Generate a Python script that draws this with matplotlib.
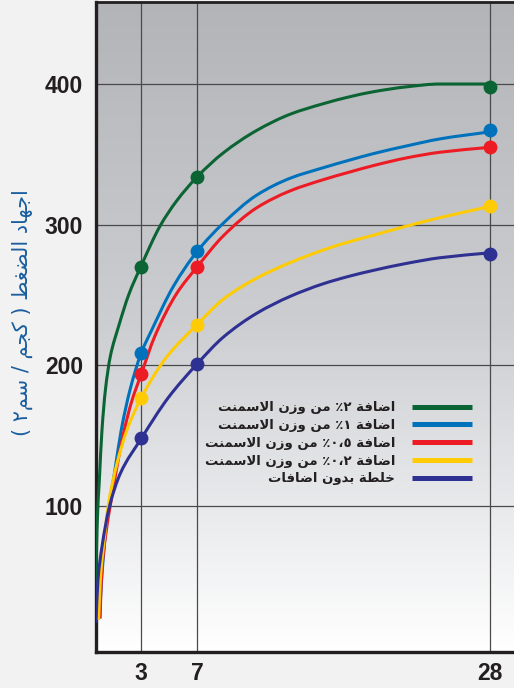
import numpy as np
import matplotlib
matplotlib.use('Agg')
from matplotlib import pyplot as plt
from matplotlib.lines import Line2D
from matplotlib.path import Path
from matplotlib.patches import PathPatch
from matplotlib.colors import LinearSegmentedColormap

# marker readings (age in days -> strength)
days = [3, 7, 28]
green_pts = [270, 334, 398]
blue_pts = [209, 281, 367]
red_pts = [194, 270, 355]
yellow_pts = [177, 229, 313]
navy_pts = [148, 201, 279]

# curves
green_x = [-0.28, -0.25, -0.18, -0.01, 0.18, 0.42, 0.77, 1.38, 2.09, 3, 4.34, 5.5, 7, 8.87, 11.27, 13.66, 16.04, 17.96, 19.63, 22.02, 24.41, 28]
green_y = [20, 45, 83, 118, 154, 182, 206, 228, 250, 271, 299, 316.5, 334, 351, 367, 378.5, 386, 391, 394.5, 398, 400, 400]
blue_x = [0.0, 0.15, 0.45, 0.7, 1.1, 1.56, 2.2, 3, 3.74, 5.29, 7, 8.87, 11.27, 13.66, 16.04, 17.96, 19.63, 22.02, 24.41, 28]
blue_y = [20, 47, 82, 100, 125, 154, 183, 209, 225, 256, 281, 301, 321, 333, 340.5, 346, 350.5, 356, 361, 366]
red_x = [0.05, 0.13, 0.45, 0.77, 1.2, 1.73, 2.3, 3, 3.98, 5.53, 7, 8.87, 11.27, 13.66, 16.04, 17.96, 19.63, 22.02, 24.41, 28]
red_y = [20, 47, 80, 100, 125, 152, 174, 194, 221, 251, 270, 292, 312, 324, 332, 337.5, 342, 347.5, 351.5, 355]
yellow_x = [-0.06, 0.06, 0.42, 0.61, 1.25, 1.97, 3, 4.82, 7, 8.87, 11.27, 13.66, 16.04, 17.96, 19.63, 22.02, 24.41, 28]
yellow_y = [19, 47, 83, 99, 130, 154, 177, 206, 229, 247, 262, 273, 282, 288, 292.5, 299, 305, 313]
navy_x = [-0.25, -0.11, 0.18, 0.70, 1.49, 3, 4.93, 7, 8.87, 11.27, 13.66, 16.04, 17.96, 19.63, 22.02, 24.41, 28]
navy_y = [17, 47, 71, 99, 123, 148, 177, 201, 220, 237, 249, 258, 263.5, 267.5, 272.5, 276.5, 280]

labels = ['اضافة ٢٪ من وزن الاسمنت',
          'اضافة ١٪ من وزن الاسمنت',
          'اضافة ٠،٥٪ من وزن الاسمنت',
          'اضافة ٠،٢٪ من وزن الاسمنت',
          'خلطة بدون اضافات']
ylabel = 'اجهاد الضغط ( كجم / سم٢ )'
yticks = [100, 200, 300, 400]

colors = ['#0b6434', '#0072bc', '#ed1c24', '#ffcb05', '#2e3192']

# --- minimal arabic shaping (matplotlib has no bidi / joining) ---
FORMS = {
    'ا': (0xFE8D, 0xFE8E, None, None), 'أ': (0xFE83, 0xFE84, None, None),
    'إ': (0xFE87, 0xFE88, None, None), 'آ': (0xFE81, 0xFE82, None, None),
    'ب': (0xFE8F, 0xFE90, 0xFE91, 0xFE92), 'ة': (0xFE93, 0xFE94, None, None),
    'ت': (0xFE95, 0xFE96, 0xFE97, 0xFE98), 'ث': (0xFE99, 0xFE9A, 0xFE9B, 0xFE9C),
    'ج': (0xFE9D, 0xFE9E, 0xFE9F, 0xFEA0), 'ح': (0xFEA1, 0xFEA2, 0xFEA3, 0xFEA4),
    'خ': (0xFEA5, 0xFEA6, 0xFEA7, 0xFEA8), 'د': (0xFEA9, 0xFEAA, None, None),
    'ذ': (0xFEAB, 0xFEAC, None, None), 'ر': (0xFEAD, 0xFEAE, None, None),
    'ز': (0xFEAF, 0xFEB0, None, None), 'س': (0xFEB1, 0xFEB2, 0xFEB3, 0xFEB4),
    'ش': (0xFEB5, 0xFEB6, 0xFEB7, 0xFEB8), 'ص': (0xFEB9, 0xFEBA, 0xFEBB, 0xFEBC),
    'ض': (0xFEBD, 0xFEBE, 0xFEBF, 0xFEC0), 'ط': (0xFEC1, 0xFEC2, 0xFEC3, 0xFEC4),
    'ظ': (0xFEC5, 0xFEC6, 0xFEC7, 0xFEC8), 'ع': (0xFEC9, 0xFECA, 0xFECB, 0xFECC),
    'غ': (0xFECD, 0xFECE, 0xFECF, 0xFED0), 'ف': (0xFED1, 0xFED2, 0xFED3, 0xFED4),
    'ق': (0xFED5, 0xFED6, 0xFED7, 0xFED8), 'ك': (0xFED9, 0xFEDA, 0xFEDB, 0xFEDC),
    'ل': (0xFEDD, 0xFEDE, 0xFEDF, 0xFEE0), 'م': (0xFEE1, 0xFEE2, 0xFEE3, 0xFEE4),
    'ن': (0xFEE5, 0xFEE6, 0xFEE7, 0xFEE8), 'ه': (0xFEE9, 0xFEEA, 0xFEEB, 0xFEEC),
    'و': (0xFEED, 0xFEEE, None, None), 'ى': (0xFEEF, 0xFEF0, None, None),
    'ي': (0xFEF1, 0xFEF2, 0xFEF3, 0xFEF4),
    'لا': (0xFEFB, 0xFEFC, None, None),
}
DUAL = set('بتثجحخسشصضطظعغفقكلمنهي')
DIGITS = set('٠١٢٣٤٥٦٧٨٩،')
MIRROR = {'(': ')', ')': '('}


def shape_word(w):
    chars = []
    i = 0
    while i < len(w):
        if w[i] == 'ل' and i + 1 < len(w) and w[i + 1] == 'ا':
            chars.append('لا')
            i += 2
        else:
            chars.append(w[i])
            i += 1
    out = []
    for i, c in enumerate(chars):
        if c not in FORMS:
            out.append(c)
            continue
        p = chars[i - 1] if i > 0 else None
        n = chars[i + 1] if i + 1 < len(chars) else None
        jp = p in DUAL
        jn = c in DUAL and n in FORMS
        iso, fin, ini, med = FORMS[c]
        if jp and jn:
            code = med
        elif jp:
            code = fin
        elif jn:
            code = ini
        else:
            code = iso
        out.append(chr(code))
    return out


def ar(text):
    words = []
    for t in text.split(' '):
        runs = []
        for ch in shape_word(t):
            if ch in DIGITS and runs and runs[-1][0] == 'd':
                runs[-1][1].append(ch)
            elif ch in DIGITS:
                runs.append(['d', [ch]])
            else:
                runs.append(['o', [MIRROR.get(ch, ch)]])
        words.append(''.join(''.join(r[1]) for r in reversed(runs)))
    return ' '.join(reversed(words))


def smooth_path(xs, ys):
    # monotone cubic through the read points, as bezier segments
    x = np.asarray(xs, float)
    y = np.asarray(ys, float)
    h = np.diff(x)
    d = np.diff(y) / h
    m = np.empty_like(x)
    m[0] = d[0]
    m[-1] = d[-1]
    for k in range(1, len(x) - 1):
        if d[k - 1] * d[k] <= 0:
            m[k] = 0
        else:
            w1 = 2 * h[k] + h[k - 1]
            w2 = h[k] + 2 * h[k - 1]
            m[k] = (w1 + w2) / (w1 / d[k - 1] + w2 / d[k])
    verts = [(x[0], y[0])]
    codes = [Path.MOVETO]
    for k in range(len(h)):
        verts += [(x[k] + h[k] / 3, y[k] + m[k] * h[k] / 3),
                  (x[k + 1] - h[k] / 3, y[k + 1] - m[k + 1] * h[k] / 3),
                  (x[k + 1], y[k + 1])]
        codes += [Path.CURVE4] * 3
    return Path(verts, codes)


fig = plt.figure(figsize=(5.14, 6.88), dpi=100)
fig.patch.set_facecolor('#f2f2f2')
ax = fig.add_axes([95.7 / 514, 1 - 652.3 / 688, 1 - 95.7 / 514, 650.3 / 688])
ax.set_xlim(-0.27, 29.71)
ax.set_ylim(-4, 458.3)

# gray-to-white background
bg = LinearSegmentedColormap.from_list('bg', [(0, '#ffffff'), (0.23, '#e8e9eb'),
                                              (0.5, '#cdced1'), (1, '#b3b4b8')])
grad = np.linspace(0, 1, 256).reshape(-1, 1)
ax.imshow(grad, cmap=bg, aspect='auto', origin='lower', extent=[0, 1, 0, 1],
          transform=ax.transAxes, zorder=0)

curves = [(green_x, green_y), (blue_x, blue_y), (red_x, red_y),
          (yellow_x, yellow_y), (navy_x, navy_y)]
points = [green_pts, blue_pts, red_pts, yellow_pts, navy_pts]
for (cx, cy), col in zip(curves, colors):
    ax.add_patch(PathPatch(smooth_path(cx, cy), facecolor='none', edgecolor=col,
                           lw=2.2, capstyle='butt', zorder=3))
for pts, col in zip(points, colors):
    ax.plot(days, pts, 'o', color=col, ms=10, mec='none', zorder=4)

ax.set_xticks(days)
ax.set_yticks(yticks)
ax.set_axisbelow('line')
ax.grid(True, color='#4a4a4a', lw=0.9)
ax.tick_params(length=0, labelsize=16.5, colors='#231f20')
ax.tick_params(axis='y', pad=9)
ax.tick_params(axis='x', pad=7)
for lab in ax.get_xticklabels() + ax.get_yticklabels():
    lab.set_fontfamily('Liberation Sans')
    lab.set_fontweight('bold')

for s in ['left', 'bottom']:
    ax.spines[s].set_linewidth(2.4)
    ax.spines[s].set_color('#231f20')
ax.spines['top'].set_linewidth(2.0)
ax.spines['top'].set_color('#231f20')
ax.spines['right'].set_visible(False)

ax.set_ylabel(ar(ylabel), color='#1b5e9e', fontsize=15, family=['DejaVu Sans'])
ax.yaxis.set_label_coords(-0.150, 0.523)

handles = [Line2D([], [], color=c, lw=3.6, solid_capstyle='butt') for c in colors]
leg = ax.legend(handles, [ar(l) for l in labels], markerfirst=False, frameon=False,
                loc='upper right', bbox_to_anchor=(0.899, 0.386), borderpad=0,
                borderaxespad=0, handlelength=4.5, handletextpad=1.3,
                labelspacing=0.36, prop={'family': ['DejaVu Sans'], 'weight': 'bold', 'size': 9.5})
for t in leg.get_texts():
    t.set_color('#231f20')

fig.savefig('out.png', dpi=100, facecolor=fig.get_facecolor())
